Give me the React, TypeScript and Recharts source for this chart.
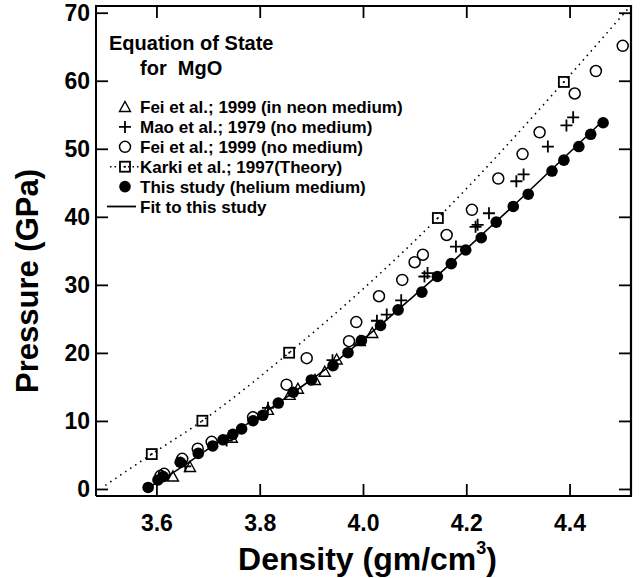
import { ComposedChart, Scatter, Line, XAxis, YAxis, Customized } from 'recharts';

const FONT = '"Liberation Sans", Arial, Helvetica, sans-serif';

// chart box
const CHART_W = 643;
const CHART_H = 578;
const MARGIN = { top: 6, right: 12, left: 0, bottom: 0 };
const Y_AXIS_W = 96;
const X_AXIS_H = 82;
const PLOT_LEFT = MARGIN.left + Y_AXIS_W;
const PLOT_TOP = MARGIN.top;
const PLOT_RIGHT = CHART_W - MARGIN.right;
const PLOT_BOTTOM = CHART_H - MARGIN.bottom - X_AXIS_H;

// axis ticks
const densityTicks = [3.6, 3.8, 4.0, 4.2, 4.4];
const pressureTicks = [0, 10, 20, 30, 40, 50, 60, 70];

// Fei et al. 1999, neon medium (open triangles)
const feiNeonDensity = [3.631, 3.664, 3.745, 3.815, 3.857, 3.873, 3.906, 3.925, 3.948, 3.993, 4.017];
const feiNeonPressure = [1.9, 3.3, 7.6, 11.7, 13.9, 14.8, 16.1, 17.3, 19.1, 21.8, 23.0];

// Mao et al. 1979, no medium (crosses)
const maoDensity = [3.655, 3.735, 3.815, 3.94, 4.026, 4.045, 4.073, 4.118, 4.124, 4.179, 4.217, 4.221, 4.243, 4.296, 4.31, 4.357, 4.393, 4.406];
const maoPressure = [3.4, 7.2, 12.0, 19.0, 24.8, 25.7, 27.8, 31.3, 31.8, 35.7, 38.6, 38.9, 40.6, 45.3, 46.3, 50.4, 53.5, 54.7];

// Fei et al. 1999, no medium (open circles)
const feiNoDensity = [3.607, 3.614, 3.649, 3.679, 3.706, 3.786, 3.851, 3.89, 3.972, 3.986, 4.03, 4.075, 4.099, 4.115, 4.161, 4.21, 4.261, 4.308, 4.341, 4.409, 4.45, 4.502];
const feiNoPressure = [2.0, 2.3, 4.5, 6.0, 7.0, 10.6, 15.4, 19.3, 21.8, 24.6, 28.4, 30.8, 33.4, 34.5, 37.4, 41.1, 45.7, 49.3, 52.5, 58.2, 61.5, 65.2];

// Karki et al. 1997 theory (squares + dotted curve)
const karkiDensity = [3.59, 3.688, 3.856, 4.144, 4.388];
const karkiPressure = [5.2, 10.1, 20.1, 39.9, 59.9];
const karkiCurveDensity = [3.5, 3.59, 3.688, 3.856, 4.144, 4.388, 4.515];
const karkiCurvePressure = [0.6, 5.2, 10.1, 20.1, 39.9, 59.9, 70.9];

// this study, helium medium (filled circles)
const studyDensity = [3.583, 3.602, 3.612, 3.645, 3.68, 3.708, 3.728, 3.747, 3.764, 3.786, 3.805, 3.835, 3.864, 3.899, 3.941, 3.97, 3.996, 4.033, 4.067, 4.113, 4.143, 4.17, 4.198, 4.228, 4.257, 4.29, 4.319, 4.365, 4.388, 4.417, 4.44, 4.464];
const studyPressure = [0.3, 1.4, 1.9, 4.0, 5.3, 6.4, 7.3, 8.1, 8.9, 10.1, 10.9, 12.7, 14.3, 16.1, 18.2, 20.1, 21.9, 24.1, 26.4, 29.0, 31.3, 33.2, 35.2, 37.0, 39.3, 41.6, 43.4, 46.8, 48.4, 50.4, 52.2, 53.9];

// fit to this study (solid line)
const fitDensity = [3.585, 3.65, 3.7, 3.75, 3.8, 3.85, 3.9, 3.95, 4.0, 4.05, 4.1, 4.15, 4.2, 4.25, 4.3, 4.35, 4.4, 4.465];
const fitPressure = [0.3, 3.4, 6.0, 8.4, 10.9, 13.5, 16.2, 19.0, 22.1, 25.3, 28.6, 31.9, 35.4, 38.9, 42.4, 46.0, 49.6, 54.3];

const legendTitle = ['Equation of State', 'for  MgO'];
const legendLabels = [
  'Fei et al.; 1999 (in neon medium)',
  'Mao et al.; 1979 (no medium)',
  'Fei et al.; 1999 (no medium)',
  'Karki et al.; 1997(Theory)',
  'This study (helium medium)',
  'Fit to this study',
];

const pairs = (d: number[], p: number[]) => d.map((v, i) => ({ d: v, p: p[i] }));

const feiNeon = pairs(feiNeonDensity, feiNeonPressure);
const mao = pairs(maoDensity, maoPressure);
const feiNo = pairs(feiNoDensity, feiNoPressure);
const karki = pairs(karkiDensity, karkiPressure);
const karkiCurve = pairs(karkiCurveDensity, karkiCurvePressure);
const study = pairs(studyDensity, studyPressure);
const fit = pairs(fitDensity, fitPressure);

// marker shapes
const triangle = (cx: number, cy: number) => (
  <path d={`M${cx},${cy - 5.5}L${cx + 5.5},${cy + 4.5}L${cx - 5.5},${cy + 4.5}Z`} fill="none" stroke="#000" strokeWidth={1.4} />
);
const cross = (cx: number, cy: number) => (
  <path d={`M${cx - 6},${cy}H${cx + 6}M${cx},${cy - 6}V${cy + 6}`} stroke="#000" strokeWidth={1.8} />
);
const ring = (cx: number, cy: number) => <circle cx={cx} cy={cy} r={5.5} fill="none" stroke="#000" strokeWidth={1.5} />;
const box = (cx: number, cy: number) => (
  <g>
    <rect x={cx - 5} y={cy - 5} width={10} height={10} fill="none" stroke="#000" strokeWidth={1.8} />
    <circle cx={cx} cy={cy} r={1} fill="#000" />
  </g>
);
const dot = (cx: number, cy: number) => <circle cx={cx} cy={cy} r={5.8} fill="#000" />;

const shapeOf = (fn: (cx: number, cy: number) => any) => (props: any) => fn(props.cx, props.cy);

// tick renderers: inward ticks, mirrored on the top / right edge of the frame
const BottomTick = ({ x, y, payload }: any) => (
  <g>
    <line x1={x} y1={y} x2={x} y2={y - 12} stroke="#000" strokeWidth={1.8} />
    <line x1={x} y1={PLOT_TOP} x2={x} y2={PLOT_TOP + 12} stroke="#000" strokeWidth={1.8} />
    <text x={x} y={y + 35} textAnchor="middle" fontSize={23} fontWeight="bold" fontFamily={FONT} fill="#000">
      {payload.value.toFixed(1)}
    </text>
  </g>
);
const LeftTick = ({ x, y, payload }: any) => (
  <g>
    <line x1={x} y1={y} x2={x + 12} y2={y} stroke="#000" strokeWidth={1.8} />
    <line x1={PLOT_RIGHT} y1={y} x2={PLOT_RIGHT - 12} y2={y} stroke="#000" strokeWidth={1.8} />
    <text x={x - 6} y={y + 8} textAnchor="end" fontSize={23} fontWeight="bold" fontFamily={FONT} fill="#000">
      {payload.value}
    </text>
  </g>
);

const legendSymbols = [triangle, cross, ring, box, dot, null];

// legend block and the top / right edges of the frame
const Overlay = () => {
  const ox = 100;
  const oy = 20;
  return (
    <g>
      <path
        d={`M${PLOT_LEFT},${PLOT_TOP}H${PLOT_RIGHT}V${PLOT_BOTTOM}`}
        stroke="#000"
        strokeWidth={2.2}
        fill="none"
      />
      <g transform={`translate(${ox},${oy})`}>
        <text x={9} y={30} fontSize={20} fontWeight="bold" fontFamily={FONT}>{legendTitle[0]}</text>
        <text x={40} y={55} fontSize={20} fontWeight="bold" fontFamily={FONT} style={{ whiteSpace: 'pre' }}>{legendTitle[1]}</text>
        {legendLabels.map((label, i) => {
          const cy = 87 + i * 19.9;
          const sym = legendSymbols[i];
          return (
            <g key={label}>
              {i === 3 && <line x1={10} x2={40} y1={cy} y2={cy} stroke="#000" strokeWidth={1.6} strokeDasharray="1.5 3" />}
              {i === 5 && <line x1={7} x2={36} y1={cy} y2={cy} stroke="#000" strokeWidth={1.8} />}
              {sym && sym(25, cy)}
              <text x={40} y={cy + 6} fontSize={17} fontWeight="bold" fontFamily={FONT}>{label}</text>
            </g>
          );
        })}
      </g>
    </g>
  );
};

const YLabel = ({ viewBox }: any) => {
  const cx = 38;
  const cy = viewBox.y + viewBox.height / 2 + 30;
  return (
    <text x={cx} y={cy} transform={`rotate(-90 ${cx} ${cy})`} textAnchor="middle" fontSize={31} fontWeight="bold" fontFamily={FONT}>
      Pressure (GPa)
    </text>
  );
};

const XLabel = ({ viewBox }: any) => {
  const cx = viewBox.x + viewBox.width / 2 + 4;
  const cy = 570;
  return (
    <text x={cx} y={cy} textAnchor="middle" fontSize={32} fontWeight="bold" fontFamily={FONT}>
      Density (gm/cm
      <tspan fontSize={18} dy={-16}>3</tspan>
      <tspan dy={16}>)</tspan>
    </text>
  );
};

export default function App() {
  const xDomain: [number, number] = [3.482, 4.518];
  const yDomain: [number, number] = [-0.96, 71.06];
  return (
    <div style={{ position: 'absolute', left: 0, top: 0, width: CHART_W, height: CHART_H, background: '#fff' }}>
      <ComposedChart width={CHART_W} height={CHART_H} margin={MARGIN}>
        <XAxis
          dataKey="d"
          type="number"
          domain={xDomain}
          ticks={densityTicks}
          height={X_AXIS_H}
          tickSize={0}
          tickMargin={0}
          tickLine={false}
          tick={BottomTick}
          axisLine={{ stroke: '#000', strokeWidth: 2 }}
          label={XLabel}
        />
        <YAxis
          dataKey="p"
          type="number"
          domain={yDomain}
          ticks={pressureTicks}
          width={Y_AXIS_W}
          tickSize={0}
          tickMargin={0}
          tickLine={false}
          tick={LeftTick}
          axisLine={{ stroke: '#000', strokeWidth: 2 }}
          label={YLabel}
        />
        <Line data={karkiCurve} dataKey="p" type="monotone" dot={false} stroke="#000" strokeWidth={1.6} strokeDasharray="1.5 4.5" isAnimationActive={false} />
        <Line data={fit} dataKey="p" type="monotone" dot={false} stroke="#000" strokeWidth={1.6} isAnimationActive={false} />
        <Scatter data={karki} shape={shapeOf(box)} isAnimationActive={false} />
        <Scatter data={feiNo} shape={shapeOf(ring)} isAnimationActive={false} />
        <Scatter data={study} shape={shapeOf(dot)} isAnimationActive={false} />
        <Scatter data={feiNeon} shape={shapeOf(triangle)} isAnimationActive={false} />
        <Scatter data={mao} shape={shapeOf(cross)} isAnimationActive={false} />
        <Customized component={Overlay} />
      </ComposedChart>
      {/* plain HTML fallback for the top and right edges of the frame */}
      <div
        style={{
          position: 'absolute',
          left: PLOT_LEFT - 1,
          top: PLOT_TOP - 1,
          width: PLOT_RIGHT - PLOT_LEFT,
          height: PLOT_BOTTOM - PLOT_TOP,
          borderTop: '2px solid #000',
          borderRight: '2px solid #000',
          pointerEvents: 'none',
        }}
      />
    </div>
  );
}
